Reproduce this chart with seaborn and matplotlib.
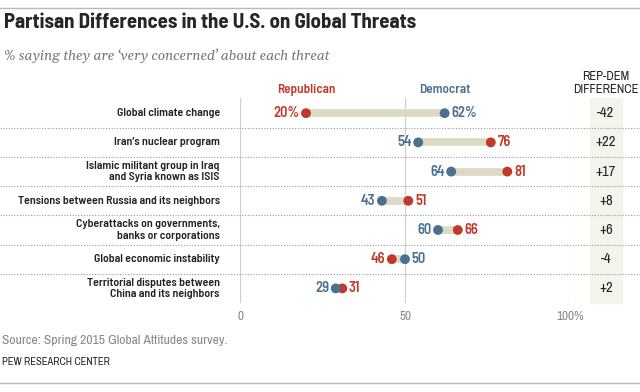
import numpy as np
import pandas as pd
import matplotlib
matplotlib.use('Agg')
import matplotlib.pyplot as plt
import seaborn as sns

threats = ['Global climate change',
           'Iran\u2019s nuclear program',
           'Islamic militant group in Iraq\nand Syria known as ISIS',
           'Tensions between Russia and its neighbors',
           'Cyberattacks on governments,\nbanks or corporations',
           'Global economic instability',
           'Territorial disputes between\nChina and its neighbors']
republican = [20, 76, 81, 51, 66, 46, 31]
democrat = [62, 54, 64, 43, 60, 50, 29]
difference = ['-42', '+22', '+17', '+8', '+6', '-4', '+2']
ticks = [0, 50, 100]
tick_labels = ['0', '50', '100%']

RED = '#c0392b'
BLUE = '#4a7090'
BAR = '#dcd9c5'
BOX = '#f4f4ed'
NARROW = ['Archivo Narrow', 'DejaVu Sans']
SEMI = ['Barlow Semi Condensed', 'Archivo Narrow', 'DejaVu Sans']

sns.set_style('white')
plt.rcParams['font.family'] = NARROW

df = pd.DataFrame({'threat': threats * 2,
                   'row': list(range(len(threats))) * 2,
                   'value': republican + democrat,
                   'party': ['Republican'] * len(threats) + ['Democrat'] * len(threats)})

W, H = 640, 392
fig = plt.figure(figsize=(6.4, 3.92), dpi=100)
ax = fig.add_axes([240 / W, 1 - 303 / H, 330 / W, 205 / H])
ax.set_xlim(0, 100)
ax.set_ylim(6.5, -0.52)

# difference column background
ax.axvspan(106.1, 115.8, color=BOX, zorder=0, clip_on=False)

for x in ticks:
    ax.axvline(x, color='#d0d0d0', lw=0.9, zorder=1)

ax.hlines(df['row'][:7], [min(a, b) for a, b in zip(republican, democrat)],
          [max(a, b) for a, b in zip(republican, democrat)], color=BAR, lw=5.5, zorder=2)

sns.scatterplot(data=df, x='value', y='row', hue='party', palette={'Republican': RED, 'Democrat': BLUE},
                s=50, edgecolor='none', legend=False, zorder=3, ax=ax)

for i, (r, d) in enumerate(zip(republican, democrat)):
    suf = '%' if i == 0 else ''
    lo, hi = (r, RED), (d, BLUE)
    if d < r:
        lo, hi = (d, BLUE), (r, RED)
    ax.text(lo[0] - 2, i, f'{lo[0]}{suf}', color=lo[1], ha='right', va='center', fontsize=10.5,
            family=SEMI, fontweight=600)
    ax.text(hi[0] + 2, i, f'{hi[0]}{suf}', color=hi[1], ha='left', va='center', fontsize=10.5,
            family=SEMI, fontweight=600)
    ax.text(-6.1, i, threats[i], ha='right', va='center', fontsize=8.5, color='#222222',
            linespacing=1.2, family=SEMI, fontweight=600)
    ax.text(110.9, i, difference[i], ha='center', va='center', fontsize=10.5, color='#222222')
    if i < len(threats) - 1:
        ax.plot([-72.7, 121.2], [i + 0.5, i + 0.5], ls=(0, (1, 1.5)), color='#999999',
                lw=0.8, clip_on=False)

ax.text(republican[0], -0.8, 'Republican', color=RED, ha='center', va='center',
        fontsize=9.5, family=SEMI, fontweight=600)
ax.text(democrat[0], -0.8, 'Democrat', color=BLUE, ha='center', va='center',
        fontsize=9.5, family=SEMI, fontweight=600)
ax.text(110.9, -1.03, 'REP-DEM\nDIFFERENCE', ha='center', va='center', fontsize=9,
        color='#222222', linespacing=1.3)

ax.set_xticks(ticks)
ax.set_xticklabels(tick_labels, color='#888888', fontsize=9.5)
ax.tick_params(axis='x', length=0, pad=6)
ax.set_yticks([])
ax.set_xlabel('')
ax.set_ylabel('')
sns.despine(ax=ax, left=True, bottom=True)

fig.text(4 / W, 1 - 23 / H, 'Partisan Differences in the U.S. on Global Threats',
         fontsize=15, fontweight=700, va='center',
         family=['Barlow Semi Condensed', 'Asap Condensed', 'DejaVu Sans'])
fig.text(4 / W, 1 - 56 / H, '% saying they are \u2018very concerned\u2019 about each threat',
         fontsize=9.9, style='italic', color='#777777', va='center',
         family=['Gelasio', 'Liberation Serif', 'DejaVu Serif'])
fig.text(2 / W, 1 - 341 / H, 'Source: Spring 2015 Global Attitudes survey.', fontsize=9.8,
         color='#888888', va='center')
fig.text(2 / W, 1 - 362 / H, 'PEW RESEARCH CENTER', fontsize=7.6, color='#222222', va='center')

fig.add_artist(plt.Line2D([0, 1], [1 - 8 / H, 1 - 8 / H], color='#bbbbbb', lw=1))
fig.add_artist(plt.Line2D([0, 1], [1 - 383 / H, 1 - 383 / H], color='#bbbbbb', lw=1))

fig.savefig('out.png', dpi=100)
